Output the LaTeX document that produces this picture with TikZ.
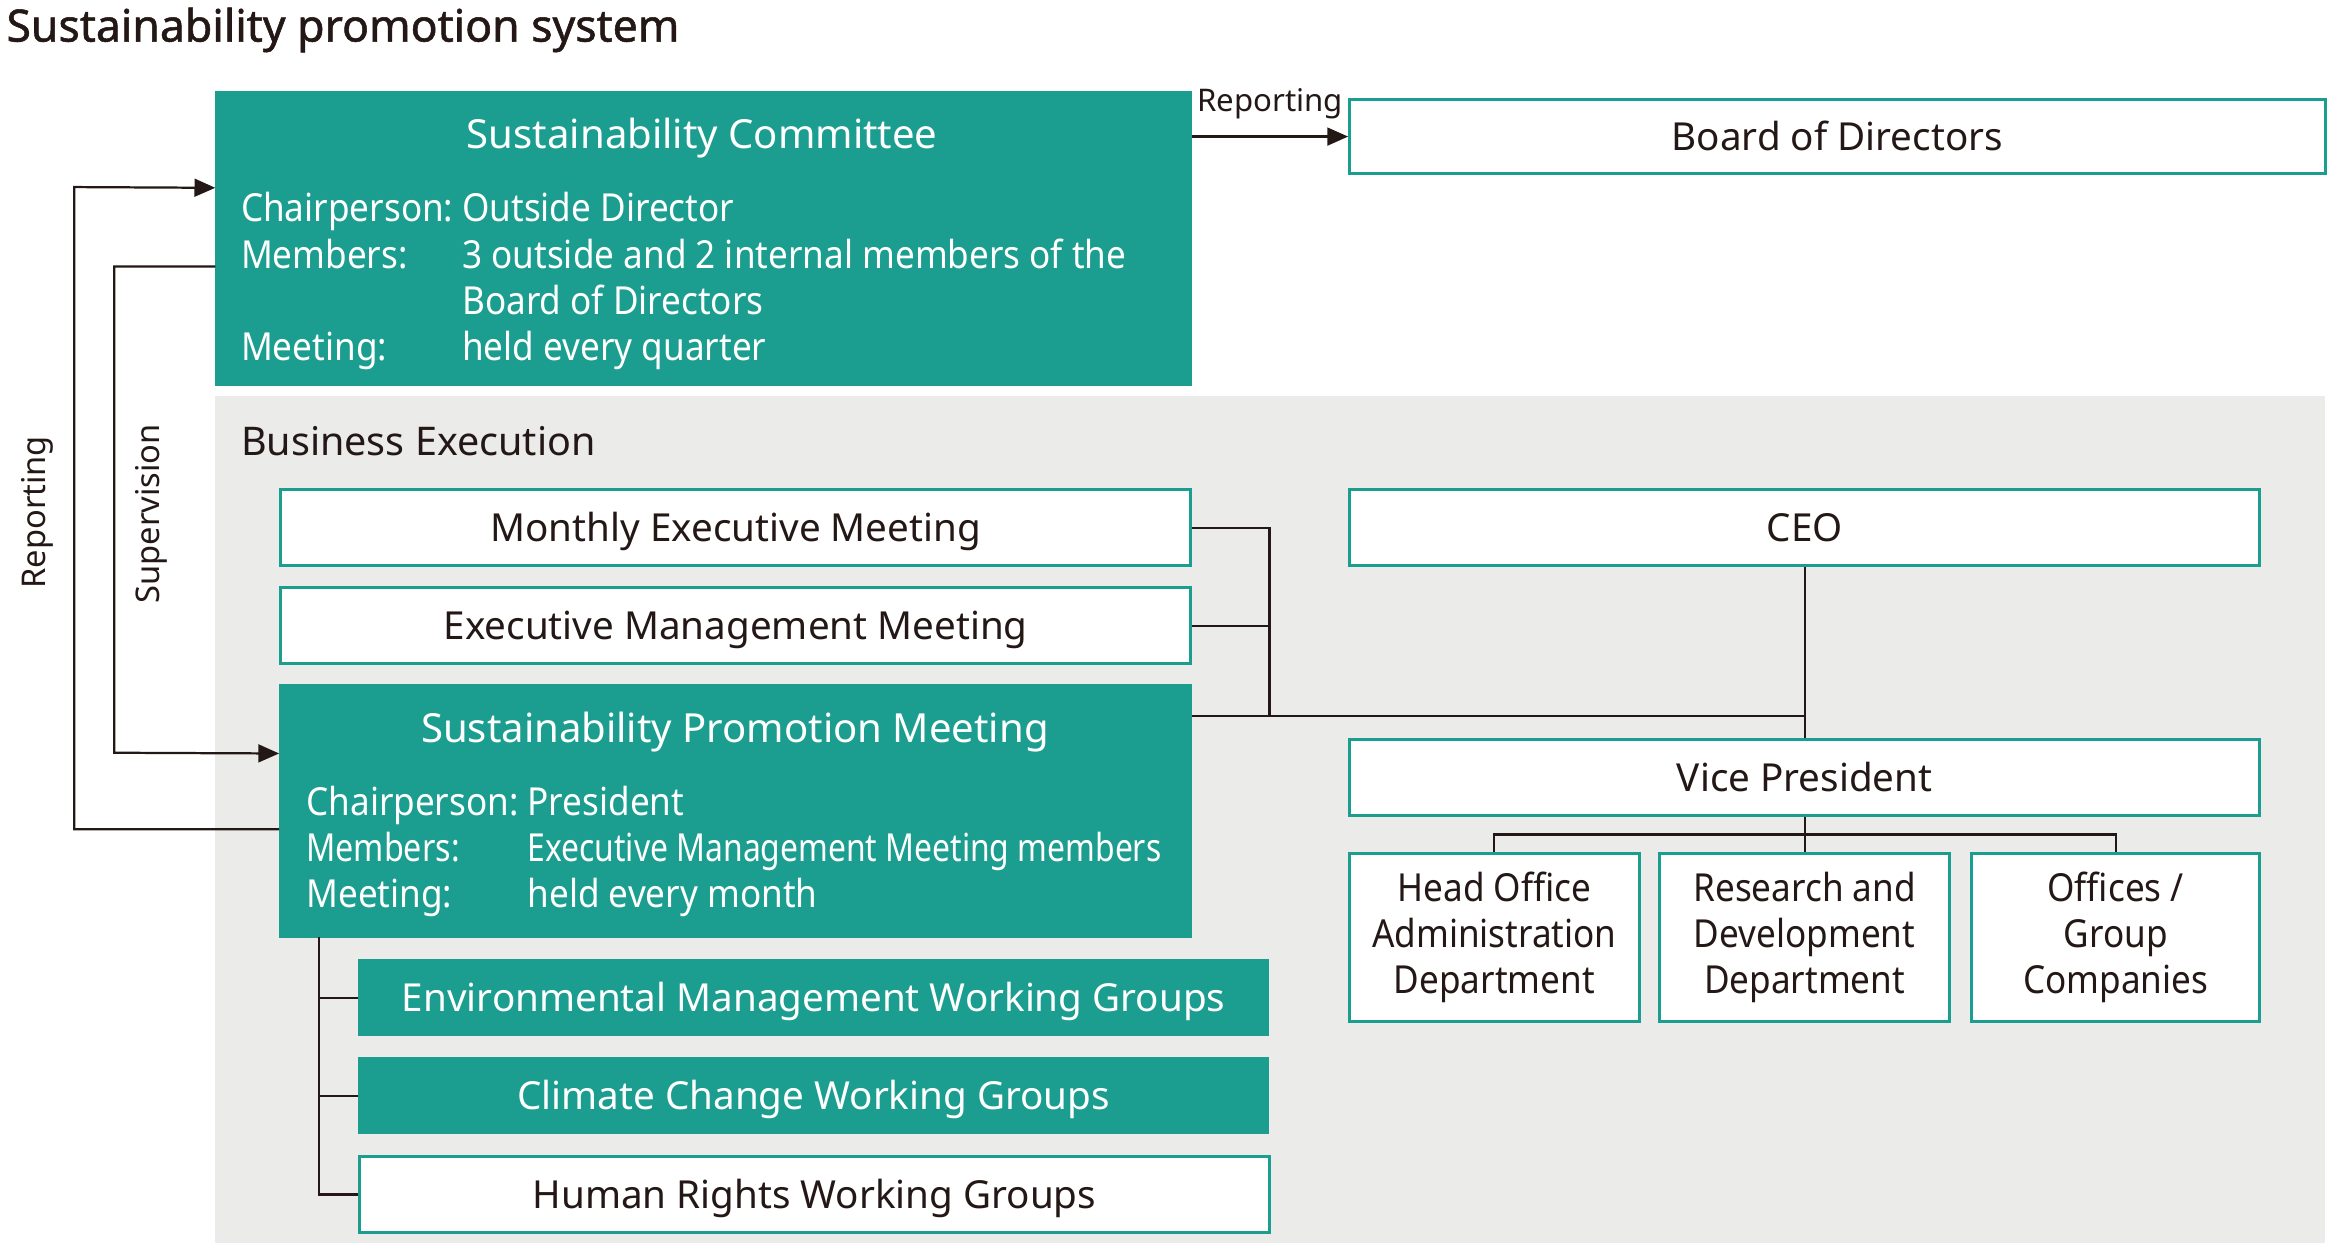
\documentclass[tikz,border=0pt]{standalone}
\usepackage{fontspec}
\usepackage{graphicx}
\setmainfont{Noto Sans}
\usetikzlibrary{arrows.meta}
\definecolor{teal1}{RGB}{27,158,143}
\definecolor{bgray}{RGB}{235,235,233}
\definecolor{ink}{RGB}{35,24,21}
\newcommand\fsz{\fontsize{13}{15.5}\selectfont}
\font\ttlfont="Noto Sans:embolden=1.2" at 15pt
\tikzset{
  wbox/.style={draw=teal1, line width=1pt, fill=white, inner sep=0pt, anchor=north west,
    text=ink, font=\fsz, text height=9.3pt, text depth=0pt},
  tbox/.style={draw=teal1, line width=0.5pt, fill=teal1, inner sep=0pt, anchor=north west,
    text=white, font=\fsz, text height=9.3pt, text depth=0pt},
  dbox/.style={draw=teal1, line width=1pt, fill=white, inner sep=0pt, anchor=north west,
    minimum width=97.5pt, minimum height=56.5pt},
  dtxt/.style={inner sep=0pt, text=ink, font=\fsz, align=center, xscale=0.91},
  conn/.style={draw=ink, line width=0.75pt},
  arr/.style={conn, -{Triangle[length=7pt,width=6pt]}},
  wtxt/.style={inner sep=0pt, anchor=base west, font=\fsz, text=white, xscale=0.91},
  ttl/.style={inner sep=0pt, anchor=base, font=\fontsize{13.5}{16}\selectfont, text=white},
  lbl/.style={inner sep=0pt, font=\fontsize{10.5}{12}\selectfont, text=ink},
}
\begin{document}
\begin{tikzpicture}[x=0.5pt,y=-0.5pt]
\useasboundingbox (0,0) rectangle (1568,840);
\fill[white] (0,0) rectangle (1568,840);
% title
\node[inner sep=0pt, anchor=base west, font=\ttlfont, text=ink] (title) at (4,28) {Sustainability promotion system};
% committee
\node[tbox, minimum width=328.5pt, minimum height=99pt] (comm) at (145,61) {};
\node[ttl] (commt) at (473,100) {Sustainability Committee};
\node[wtxt] (c1a) at (162,149) {Chairperson:};
\node[wtxt] (c1b) at (311,149) {Outside Director};
\node[wtxt] (c2a) at (162,181) {Members:};
\node[wtxt] (c2b) at (311,181) {3 outside and 2 internal members of the};
\node[wtxt] (c3b) at (311,212) {Board of Directors};
\node[wtxt] (c4a) at (162,243) {Meeting:};
\node[wtxt] (c4b) at (311,243) {held every quarter};
% board
\node[wbox, minimum width=328.5pt, minimum height=25pt] (board) at (908,66) {Board of Directors};
\draw[arr] (board.west -| comm.east) -- node[lbl, above=5.5pt] (rep1) {Reporting} (board.west);
% business execution background
\fill[bgray] (145,267) rectangle (1566,837);
\node[inner sep=0pt, anchor=base west, font=\fontsize{13.3}{16}\selectfont, text=ink] (be) at (162,307) {Business Execution};
\node[wbox, minimum width=306.5pt, minimum height=25.5pt] (monthly) at (188,329) {Monthly Executive Meeting};
\node[wbox, minimum width=306.5pt, minimum height=25.5pt] (execm) at (188,395) {Executive Management Meeting};
\node[tbox, minimum width=307pt, minimum height=85pt] (spm) at (188,461) {};
\node[ttl] (spmt) at (495,500) {Sustainability Promotion Meeting};
\node[wtxt] (s1a) at (206,549) {Chairperson:};
\node[wtxt] (s1b) at (355,549) {President};
\node[wtxt, xscale=0.92] (s2a) at (206,580) {Members:};
\node[wtxt, xscale=0.907] (s2b) at (355,580) {Executive Management Meeting members};
\node[wtxt] (s3a) at (206,611) {Meeting:};
\node[wtxt] (s3b) at (355,611) {held every month};
% right side
\node[wbox, minimum width=306.5pt, minimum height=25.5pt] (ceo) at (908,329) {CEO};
\node[wbox, minimum width=306.5pt, minimum height=25.5pt] (vp) at (908,497) {Vice President};
\node[dbox] (ho) at (908,574) {};
\node[dbox] (rd) at (1117,574) {};
\node[dbox, minimum width=97pt] (off) at (1327,574) {};
\node[dtxt] (hot) at (ho.center) {Head Office\\Administration\\Department};
\node[dtxt] (rdt) at (rd.center) {Research and\\Development\\Department};
\node[dtxt] (offt) at (off.center) {Offices /\\Group\\Companies};
% working groups
\node[tbox, minimum width=306.5pt, minimum height=25.5pt] (env) at (241,646) {Environmental Management Working Groups};
\node[tbox, minimum width=306.5pt, minimum height=25.5pt] (clim) at (241,712) {Climate Change Working Groups};
\node[wbox, minimum width=306.5pt, minimum height=25.5pt] (hr) at (241,778) {Human Rights Working Groups};
% connectors
\coordinate (j) at (855,482);
\draw[conn] (monthly.east) -| (j);
\draw[conn] (execm.east) -- (execm.east -| j);
\draw[conn] (j -| spm.east) -- (j -| ceo.south);
\draw[conn] (ceo.south) -- (vp.north);
\coordinate (b) at (1215,562);
\draw[conn] (vp.south) -- (vp.south |- b);
\draw[conn] (ho.north) |- (b) -| (off.north);
\draw[conn] (rd.north) -- (rd.north |- b);
\coordinate (w) at (215,631);
\draw[conn] (w) |- (hr.west);
\draw[conn] (w |- env.west) -- (env.west);
\draw[conn] (w |- clim.west) -- (clim.west);
% reporting / supervision loops
\coordinate (rx) at (50,126);
\draw[arr] ([yshift=-6pt]spm.west) -| (rx) -- ([yshift=17pt]comm.west);
\coordinate (sx) at (77,507);
\draw[arr] ([yshift=-9.5pt]comm.west) -| (sx) -- ([yshift=19.5pt]spm.west);
\node[lbl, font=\fontsize{11}{13}\selectfont, rotate=90] (rep2) at (25,345) {Reporting};
\node[lbl, font=\fontsize{11}{13}\selectfont, rotate=90] (sup) at (102,346) {Supervision};
\end{tikzpicture}
\end{document}
